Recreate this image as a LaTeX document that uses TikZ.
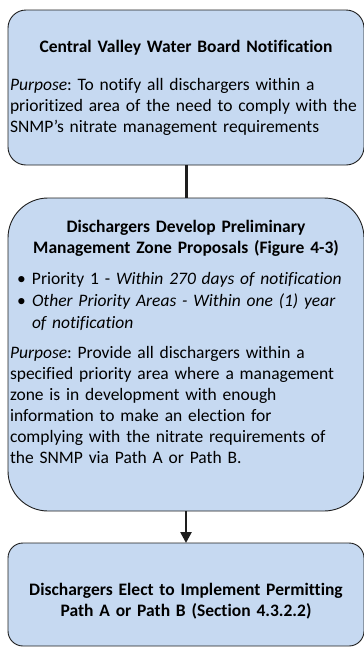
\documentclass[tikz,border=0pt]{standalone}
\usepackage{fontspec}
\setmainfont{Carlito}[Ligatures=NoCommon]
\usetikzlibrary{arrows.meta}
\definecolor{boxfill}{RGB}{198,217,241}
\definecolor{boxline}{RGB}{30,30,30}
\frenchspacing
\begin{document}
\begin{tikzpicture}[x=1pt,y=-1pt,
  box/.style={draw=boxline,fill=boxfill,line width=0.9pt,inner sep=0pt,outer sep=0pt},
  txt/.style={inner sep=0pt,outer sep=0pt,font=\fontsize{17.5}{21}\selectfont\frenchspacing},
  ctxt/.style={txt,text width=360pt,align=center,anchor=base},
  ltxt/.style={txt,text width=360pt,align=left,anchor=base west}]
\useasboundingbox (0,0) rectangle (364,648);
% boxes
\node[box,rounded corners=18pt,minimum width=356pt,minimum height=155pt] (b1) at (186,87.5) {};
\node[box,rounded corners=40pt,minimum width=356pt,minimum height=313pt] (b2) at (186,354.5) {};
\node[box,rounded corners=15pt,minimum width=356pt,minimum height=103pt] (b3) at (186,594.5) {};
% connectors
\draw[line width=3pt,boxline] (b1.south) -- (b2.north);
\draw[line width=2.5pt,boxline,-{Triangle[width=11pt,length=11pt]}] (b2.south) -- (b3.north);
% box 1 text
\node[ctxt] (t1) at (186,52) {\bfseries Central Valley Water Board Notification};
\node[ltxt] (p1) at (10,90) {\textit{Purpose}: To notify all dischargers within a\\prioritized area of the need to comply with the\\SNMP’s nitrate management requirements};
% box 2 text
\node[ctxt] (t2) at (186,232) {\bfseries Dischargers Develop Preliminary\\Management Zone Proposals (Figure 4-3)};
\node[ltxt,font=\fontsize{17.5}{22}\selectfont] (l2) at (17,284) {\makebox[15pt][l]{•}Priority 1 - \textit{Within 270 days of notification}\\\makebox[15pt][l]{•}\textit{Other Priority Areas - Within one (1) year}\\\hspace*{15pt}\textit{of notification}};
\node[ltxt] (p2) at (10,358) {\textit{Purpose}: Provide all dischargers within a\\specified priority area where a management\\zone is in development with enough\\information to make an election for\\complying with the nitrate requirements of\\the SNMP via Path A or Path B.};
% box 3 text
\node[ctxt] (t3) at (186,595) {\bfseries Dischargers Elect to Implement Permitting\\Path A or Path B (Section 4.3.2.2)};
\end{tikzpicture}
\end{document}
